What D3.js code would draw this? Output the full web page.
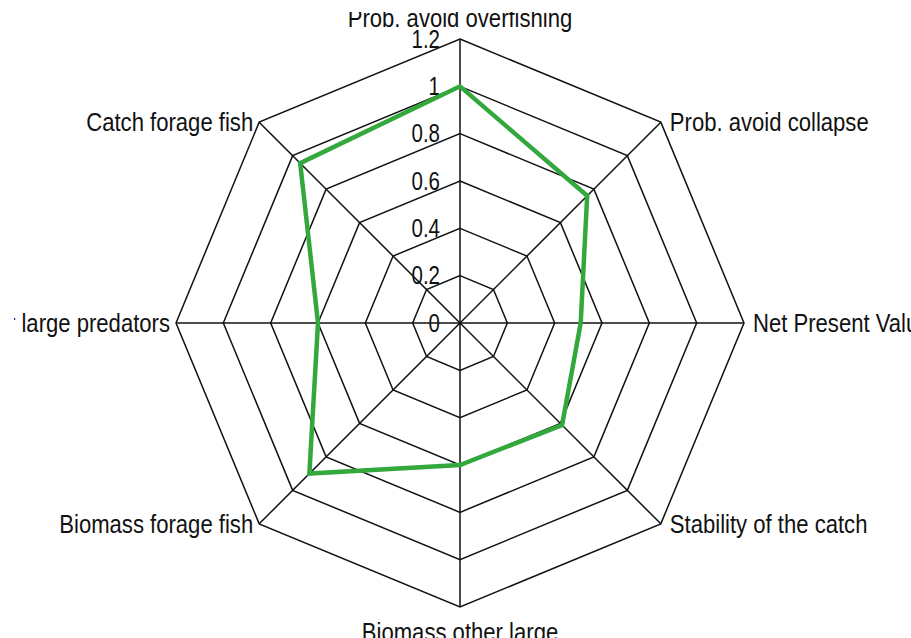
<!DOCTYPE html>
<html>
<head>
<meta charset="utf-8">
<script src="https://cdn.jsdelivr.net/npm/d3@7"></script>
<style>
  html, body { margin: 0; padding: 0; background: #fff; }
  svg text { font-family: "Liberation Sans", Arial, sans-serif; fill: #111; }
</style>
</head>
<body>
<svg id="chart" width="911" height="638"></svg>
<script>
const categories = ["Prob. avoid overfishing", "Prob. avoid collapse", "Net Present Value",
  "Stability of the catch", "Biomass other large\npredators", "Biomass forage fish",
  "Catch other large predators", "Catch forage fish"];
const values = [1.0, 0.76, 0.51, 0.61, 0.60, 0.90, 0.60, 0.955];
const ringLevels = [0.2, 0.4, 0.6, 0.8, 1.0, 1.2];
const tickLabels = ["0", "0.2", "0.4", "0.6", "0.8", "1", "1.2"];
const tickValues = [0, 0.2, 0.4, 0.6, 0.8, 1.0, 1.2];

const W = 911, H = 638, cx = 460, cy = 323;
const SX = 0.85; // narrow-font emulation
const svg = d3.select("#chart");
svg.append("defs").append("clipPath").attr("id", "clip")
  .append("rect").attr("x", 14).attr("y", 12).attr("width", W).attr("height", H);
const root = svg.append("g").attr("clip-path", "url(#clip)");
const g = root.append("g").attr("transform", `translate(${cx},${cy})`);

const r = d3.scaleLinear().domain([0, 1.2]).range([0, 284]);
const n = categories.length;
const ang = d3.scaleLinear().domain([0, n]).range([0, 2 * Math.PI]);
const pt = (i, v) => [Math.sin(ang(i)) * r(v), -Math.cos(ang(i)) * r(v)];

const radial = d3.lineRadial().angle((d, i) => ang(i)).radius(d => r(d)).curve(d3.curveLinearClosed);

// rings
g.selectAll("path.ring").data(ringLevels).enter().append("path")
  .attr("class", "ring")
  .attr("d", lv => radial(d3.range(n).map(() => lv)))
  .attr("fill", "none").attr("stroke", "#111").attr("stroke-width", 1.5);

// spokes
g.selectAll("line.spoke").data(d3.range(n)).enter().append("line")
  .attr("x1", 0).attr("y1", 0)
  .attr("x2", i => pt(i, 1.2)[0]).attr("y2", i => pt(i, 1.2)[1])
  .attr("stroke", "#111").attr("stroke-width", 1.5);

// tick labels
g.selectAll("text.tick").data(tickValues).enter().append("text")
  .attr("transform", v => `translate(-20,${-r(v)}) scale(0.82,1)`)
  .attr("dy", "0.35em").attr("text-anchor", "end")
  .attr("font-size", 25)
  .text((v, i) => tickLabels[i]);

// data polygon
g.append("path").datum(values)
  .attr("d", radial)
  .attr("fill", "none").attr("stroke", "#33a83d").attr("stroke-width", 4.5)
  .attr("stroke-linejoin", "miter");

// axis labels
g.selectAll("text.lab").data(categories).enter().append("text")
  .attr("font-size", 26)
  .each(function (c, i) {
    const [x, y] = pt(i, 1.2);
    const s = Math.sin(ang(i));
    const t = d3.select(this);
    let tx, ty, dy = 0;
    if (Math.abs(s) < 1e-6) {
      t.attr("text-anchor", "middle");
      tx = x;
      ty = y < 0 ? y - 12 : y + 34;
    } else {
      t.attr("text-anchor", s > 0 ? "start" : "end");
      tx = x + (s > 0 ? 9 : -6); ty = y; dy = 0.35;
    }
    t.attr("transform", `translate(${tx},${ty}) scale(${SX},1)`);
    c.split("\n").forEach((line, k) => {
      t.append("tspan").attr("x", 0).attr("dy", (k === 0 ? dy : 1.15) + "em").text(line);
    });
  });
</script>
</body>
</html>
